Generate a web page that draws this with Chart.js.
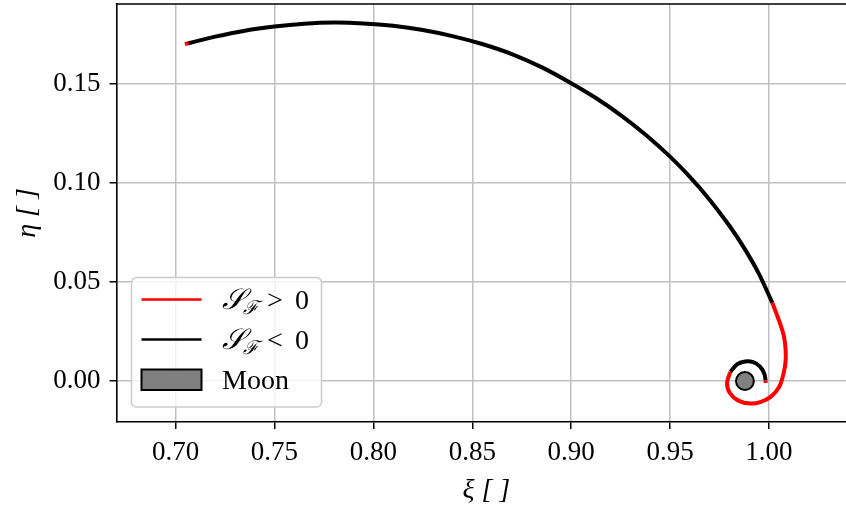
<!DOCTYPE html>
<html><head><meta charset="utf-8">
<script src="https://cdn.jsdelivr.net/npm/chart.js@4/dist/chart.umd.min.js"></script>
<style>html,body{margin:0;padding:0;overflow:hidden;background:#fff;width:846px;height:508px}canvas{display:block}</style>
</head><body>
<canvas id="c" width="870" height="508"></canvas>
<script>
// ---- data ----
const xTicks = [0.70, 0.75, 0.80, 0.85, 0.90, 0.95, 1.00];
const yTicks = [0.00, 0.05, 0.10, 0.15];
const xLimits = [0.6702, 1.044];
const yLimits = [-0.0207, 0.1904];

const redStartXi  = [0.7057, 0.7066];
const redStartEta = [0.1704, 0.1706];

const blackArcXi  = [0.7066, 0.7200, 0.7350, 0.7500, 0.7650, 0.7800, 0.7950, 0.8100, 0.8250, 0.8400, 0.8550, 0.8700, 0.8850, 0.9000, 0.9125, 0.9250, 0.9375, 0.9500, 0.9600, 0.9700, 0.9800, 0.9875, 0.9950, 1.0017];
const blackArcEta = [0.1706, 0.1739, 0.1769, 0.1790, 0.1804, 0.1810, 0.1806, 0.1794, 0.1773, 0.1742, 0.1702, 0.1651, 0.1585, 0.1504, 0.1429, 0.1343, 0.1245, 0.1133, 0.1031, 0.0916, 0.0784, 0.0671, 0.0540, 0.0395];

const redLoopXi  = [1.0017, 1.0056, 1.0076, 1.0084, 1.0084, 1.0074, 1.0052, 1.0010, 0.9960, 0.9907, 0.9845, 0.9803, 0.9788, 0.9805];
const redLoopEta = [0.0395, 0.0291, 0.0224, 0.0160, 0.0100, 0.0039, -0.0029, -0.0079, -0.0105, -0.0114, -0.0099, -0.0062, -0.0010, 0.0047];

const blackSmallXi  = [0.9805, 0.9840, 0.9880, 0.9920, 0.9955, 0.9977, 0.9983];
const blackSmallEta = [0.0047, 0.0085, 0.0099, 0.0095, 0.0073, 0.0035, 0.0003];

const redTailXi  = [0.9983, 0.9984];
const redTailEta = [0.0003, -0.0010];

const moonXi = [0.98785];
const moonEta = [0.0];
const moonRadius = 0.00452;

const legendLabels = ['S_F > 0', 'S_F < 0', 'Moon'];
// ---------------------------------------

const zip = (a, b) => a.map((v, i) => ({x: v, y: b[i]}));
const RED = '#ff0000', BLACK = '#000000';
const LW = 4;
const FONT = '"Liberation Serif", "DejaVu Serif", serif';

function lineDs(label, xs, ys, color, order, cap) {
  return {label, data: zip(xs, ys), showLine: true, borderColor: color, backgroundColor: color,
    borderWidth: LW, pointRadius: 0, pointHoverRadius: 0, tension: 0.3, fill: false,
    borderCapStyle: cap || 'butt', borderJoinStyle: 'round', order};
}

const spinePlugin = {
  id: 'spines',
  afterDraw(chart) {
    const {ctx, chartArea: a} = chart;
    ctx.save();
    ctx.strokeStyle = '#000'; ctx.lineWidth = 1.6;
    ctx.beginPath();
    ctx.moveTo(a.left - 0.8, a.top); ctx.lineTo(a.right + 0.8, a.top);
    ctx.moveTo(a.right, a.top); ctx.lineTo(a.right, a.bottom);
    ctx.stroke();
    ctx.restore();
  }
};

const legendPlugin = {
  id: 'mplLegend',
  afterDatasetsDraw(chart) {
    const {ctx} = chart;
    const bx = 131.5, by = 277.5, bw = 190, bh = 129.5, r = 5;
    ctx.save();
    ctx.beginPath();
    ctx.roundRect(bx, by, bw, bh, r);
    ctx.fillStyle = 'rgba(255,255,255,0.8)';
    ctx.fill();
    ctx.strokeStyle = '#cccccc'; ctx.lineWidth = 1.5;
    ctx.stroke();
    const rows = [299.5, 339.5, 379.5];
    const hx0 = 141.5, hx1 = 201.5, tx = 222;
    ctx.lineWidth = 2.5;
    ctx.strokeStyle = RED; ctx.beginPath(); ctx.moveTo(hx0, rows[0]); ctx.lineTo(hx1, rows[0]); ctx.stroke();
    ctx.strokeStyle = BLACK; ctx.beginPath(); ctx.moveTo(hx0, rows[1]); ctx.lineTo(hx1, rows[1]); ctx.stroke();
    ctx.fillStyle = '#808080'; ctx.strokeStyle = '#000'; ctx.lineWidth = 2;
    ctx.fillRect(hx0, 369.5, hx1 - hx0, 20.5); ctx.strokeRect(hx0, 369.5, hx1 - hx0, 20.5);
    ctx.fillStyle = '#000';
    ctx.textBaseline = 'alphabetic'; ctx.textAlign = 'left';
    const rel = ['>', '<'];
    for (let i = 0; i < 2; i++) {
      const base = rows[i] + 9.5;
      ctx.font = 'italic 29px ' + FONT;
      ctx.fillText('\u{1D4AE}', tx, base);
      ctx.font = 'italic 19px ' + FONT;
      ctx.fillText('\u2131', 243, base + 5);
      ctx.font = '28px ' + FONT;
      ctx.fillText(rel[i], 267, base);
      ctx.fillText('0', 295, base);
    }
    ctx.font = '28px ' + FONT;
    ctx.fillText('Moon', tx, rows[2] + 9.5);
    ctx.restore();
  }
};

const moonPixelRadius = (c) => {
  const s = c.chart.scales.x;
  return Math.abs(s.getPixelForValue(moonRadius) - s.getPixelForValue(0));
};

new Chart(document.getElementById('c'), {
  type: 'scatter',
  data: {
    datasets: [
      lineDs(legendLabels[0], redStartXi, redStartEta, RED, 5, 'square'),
      lineDs(legendLabels[1], blackArcXi, blackArcEta, BLACK, 4),
      lineDs('', redLoopXi, redLoopEta, RED, 3),
      lineDs('', blackSmallXi, blackSmallEta, BLACK, 2),
      lineDs('', redTailXi, redTailEta, RED, 1),
      {label: legendLabels[2], data: zip(moonXi, moonEta), showLine: false,
       pointRadius: moonPixelRadius, pointHoverRadius: moonPixelRadius,
       backgroundColor: '#808080', borderColor: '#000', borderWidth: 2, order: 0}
    ]
  },
  options: {
    responsive: false, animation: false, devicePixelRatio: 1,
    layout: {padding: {left: 0, top: 4, right: 14, bottom: 0}},
    plugins: {legend: {display: false}, tooltip: {enabled: false}},
    scales: {
      x: {
        type: 'linear', min: xLimits[0], max: xLimits[1],
        afterBuildTicks: s => { s.ticks = xTicks.map(v => ({value: v})); },
        afterFit: s => { s.height = 86; s.paddingLeft = 0; s.paddingRight = 0; },
        ticks: {color: '#000', font: {family: FONT, size: 27}, padding: 8,
                callback: v => v.toFixed(2), maxRotation: 0},
        grid: {color: '#c0c0c0', lineWidth: 1.5, tickLength: 7, tickColor: '#000', tickWidth: 1.5},
        border: {display: true, color: '#000', width: 1.6},
        title: {display: true, text: 'ξ [ ]', color: '#000',
                font: {family: FONT, size: 28, style: 'italic'}, padding: {top: 0, bottom: 1}}
      },
      y: {
        type: 'linear', min: yLimits[0], max: yLimits[1],
        afterBuildTicks: s => { s.ticks = yTicks.map(v => ({value: v})); },
        afterFit: s => { s.width = 116.6; s.paddingTop = 0; s.paddingBottom = 0; },
        ticks: {color: '#000', font: {family: FONT, size: 27}, padding: 9,
                callback: v => v.toFixed(2)},
        grid: {color: '#c0c0c0', lineWidth: 1.5, tickLength: 7, tickColor: '#000', tickWidth: 1.5},
        border: {display: true, color: '#000', width: 1.6},
        title: {display: true, text: 'η [ ]', color: '#000',
                font: {family: FONT, size: 28, style: 'italic'}, padding: {top: 11, bottom: 0}}
      }
    }
  },
  plugins: [spinePlugin, legendPlugin]
});
</script>
</body></html>
